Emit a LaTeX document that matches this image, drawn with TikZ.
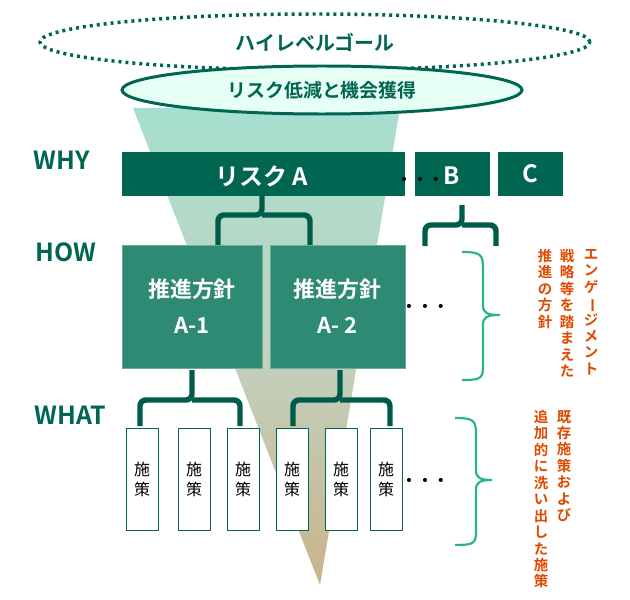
\documentclass[tikz,border=0pt]{standalone}
\usepackage{fontspec}
\setmainfont{Noto Sans CJK JP}[BoldFont={* Bold}]
\usepackage{graphicx}
\usetikzlibrary{shapes.geometric}
\definecolor{dg}{HTML}{006652}
\definecolor{mg}{HTML}{2E8A72}
\definecolor{lg}{HTML}{2DB38A}
\definecolor{rd}{HTML}{E04A00}
\definecolor{ftop}{HTML}{A6DFCF}
\definecolor{fmid}{HTML}{C2D2BF}
\definecolor{fbot}{HTML}{C9B48C}
\begin{document}
\begin{tikzpicture}[x=1bp,y=-1bp,
 lab/.style={font=\bfseries\fontsize{25}{27}\selectfont,text=dg},
 dbox/.style={fill=dg,draw=none,text=white,font=\bfseries\fontsize{24}{26}\selectfont},
 hbox/.style={fill=mg,draw=mg!70!white,line width=1pt,text=white,font=\bfseries\fontsize{22}{36}\selectfont,align=center},
 sbox/.style={fill=white,draw=dg,line width=0.8pt,minimum width=32bp,minimum height=102bp,inner sep=0,font=\fontsize{16}{20}\selectfont,align=center},
 brk/.style={draw=dg!90!black,line width=5.5pt,rounded corners=6bp},
 crl/.style={draw=lg,line width=2.2pt},
 vt/.style={text=rd,font=\bfseries\fontsize{14.5}{16.5}\selectfont,align=center,anchor=north,inner sep=0},
 dots/.style={font=\bfseries\fontsize{16}{16}\selectfont}]
\useasboundingbox (0,0) rectangle (630,600);
\shade[top color=ftop, bottom color=fbot, middle color=fmid] (133,108)--(400,108)--(320,585)--cycle;
\node[draw=dg,line width=3.5pt,dash pattern=on 3pt off 4pt,ellipse,minimum width=550bp,minimum height=56bp] (hl) at (315,42) {};
\node[lab,font=\bfseries\fontsize{20}{22}\selectfont] at (hl) {ハイレベルゴール};
\node[draw=dg,line width=3pt,fill=green!40!cyan!10,ellipse,minimum width=400bp,minimum height=48bp] (rg) at (322,90) {};
\node[lab,font=\bfseries\fontsize{19}{21}\selectfont] at (rg) {リスク低減と機会獲得};
\node[lab] (why) at (62,160) {WHY};
\node[lab] (how) at (66,252) {HOW};
\node[lab] (what) at (70,415) {WHAT};
\node[dbox,minimum width=283bp,minimum height=44bp] (ra) at (263.5,174) {};
\node[dbox] at (262,176) {リスク A};
\node[dbox,minimum width=75bp,minimum height=44bp] (rb) at (452.5,174) {};
\node[dbox] at (452,176) {B};
\node[dbox,minimum width=65bp,minimum height=44bp] (rc) at (530.5,174) {C};
\node[dots] (d1) at (420,181) {・・・};
\draw[brk] (262,196) -- (262,215) -- (218,215) -- (218,246);
\draw[brk] (262,215) -- (310,215) -- (310,246);
\draw[brk] (462,205) -- (462,225) -- (425,225) -- (425,246);
\draw[brk] (462,225) -- (496,225) -- (496,246);
\node[hbox,minimum width=140bp,minimum height=123bp] (h1) at (192,306.5) {推進方針\\A-1};
\node[hbox,minimum width=135bp,minimum height=123bp] (h2) at (337.5,306.5) {推進方針\\A- 2};
\node[dots] (d2) at (425,308) {・・・};
\draw[brk] (192,370) -- (192,400) -- (140,400) -- (140,426);
\draw[brk] (192,400) -- (240,400) -- (240,426);
\draw[brk] (340,370) -- (340,400) -- (293,400) -- (293,426);
\draw[brk] (340,400) -- (390,400) -- (390,426);
\foreach \n/\x in {s1/142,s2/194,s3/243,s4/292,s5/341,s6/386}
  \node[sbox] (\n) at (\x,479) {施\\策};
\node[dots] (d3) at (425,482) {・・・};
\draw[crl] (462,252) .. controls (482,252) and (483,255) .. (483,270) -- (483,305) .. controls (483,313) and (487,315) .. (500,315) .. controls (487,315) and (483,317) .. (483,325) -- (483,365) .. controls (483,378) and (482,380) .. (462,380);
\draw[crl] (455,418) .. controls (475,418) and (476,421) .. (476,436) -- (476,470) .. controls (476,478) and (480,480) .. (492,480) .. controls (480,480) and (476,482) .. (476,490) -- (476,530) .. controls (476,543) and (475,545) .. (455,545);
\node[vt] (v1) at (591,249) {エ\\ン\\ゲ\\\rotatebox[origin=c]{-90}{ー}\\ジ\\メ\\ン\\ト};
\node[vt] (v2) at (567,249) {戦\\略\\等\\を\\踏\\ま\\え\\た};
\node[vt] (v3) at (545,249) {推\\進\\の\\方\\針};
\node[vt] (v4) at (564,410) {既\\存\\施\\策\\お\\よ\\び};
\node[vt] (v5) at (541,410) {追\\加\\的\\に\\洗\\い\\出\\し\\た\\施\\策};
\end{tikzpicture}
\end{document}
